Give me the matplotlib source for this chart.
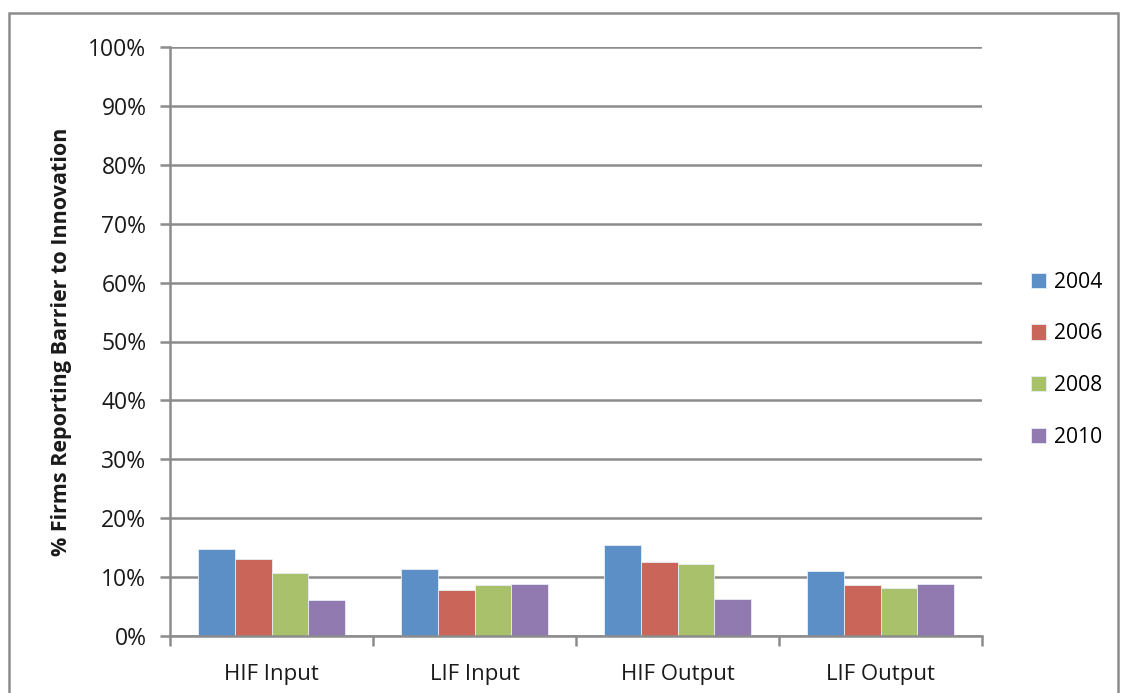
import matplotlib
matplotlib.use("Agg")
import matplotlib.pyplot as plt
from matplotlib.patches import Rectangle
from matplotlib.ticker import FixedLocator, NullFormatter
import numpy as np

categories = ["HIF Input", "LIF Input", "HIF Output", "LIF Output"]
years = ["2004", "2006", "2008", "2010"]
values = {
    "2004": [14.8, 11.4, 15.5, 11.1],
    "2006": [13.1, 7.8, 12.5, 8.6],
    "2008": [10.7, 8.6, 12.3, 8.1],
    "2010": [6.1, 8.8, 6.25, 8.8],
}
colors = ["#5B8FC6", "#CA655A", "#A9C16A", "#917AB0"]
yticks = [0, 10, 20, 30, 40, 50, 60, 70, 80, 90, 100]
ytick_labels = [f"{t}%" for t in yticks]

plt.rcParams['font.family'] = ['Open Sans', 'DejaVu Sans']

fig = plt.figure(figsize=(11.28, 6.93), dpi=100)
ax = fig.add_axes([170/1128, 1-636/693, (982-170)/1128, (636-47)/693])

n = len(years)
w = 1/5.5
x = np.arange(len(categories))
for i, (yr, c) in enumerate(zip(years, colors)):
    offs = (i - (n-1)/2) * w
    ax.bar(x + offs, values[yr], width=w, color=c, edgecolor="#E8EEF6", linewidth=0.6,
           label=yr, zorder=3)

ax.set_xlim(-0.5, len(categories)-0.5)
ax.set_ylim(0, 100)
ax.set_yticks(yticks)
ax.set_yticklabels(ytick_labels, fontsize=16.5, color="#1a1a1a")
ax.yaxis.grid(True, color="#8C8C8C", linewidth=1.8, zorder=0)
ax.set_axisbelow(True)

ax.set_xticks(x)
ax.set_xticklabels(categories, fontsize=16, color="#1a1a1a")
ax.tick_params(axis='x', which='major', length=0, pad=20)
ax.xaxis.set_minor_locator(FixedLocator(np.arange(-0.5, len(categories), 1.0)))
ax.xaxis.set_minor_formatter(NullFormatter())
ax.tick_params(axis='x', which='minor', length=7, width=1.8, color="#8C8C8C", direction='out')
ax.tick_params(axis='y', length=7, width=1.8, color="#8C8C8C", direction='out', pad=10)

for s in ["top", "right"]:
    ax.spines[s].set_visible(False)
for s in ["left", "bottom"]:
    ax.spines[s].set_color("#8C8C8C")
    ax.spines[s].set_linewidth(1.8)
    ax.spines[s].set_zorder(4)

ax.set_ylabel("% Firms Reporting Barrier to Innovation", fontsize=15.5, fontweight="bold",
              color="#1a1a1a", labelpad=12)

leg = ax.legend(loc="center left", bbox_to_anchor=(1.037, 0.469), frameon=False,
                fontsize=15.2, handlelength=0.7, handleheight=0.75, handletextpad=0.4,
                labelspacing=1.45)

fig.patches.append(Rectangle((9/1128, -0.1), (1118-9)/1128, 1.1-13/693,
                             transform=fig.transFigure, fill=False,
                             edgecolor="#8C8C8C", linewidth=1.8))

fig.savefig("out.png", dpi=100)
